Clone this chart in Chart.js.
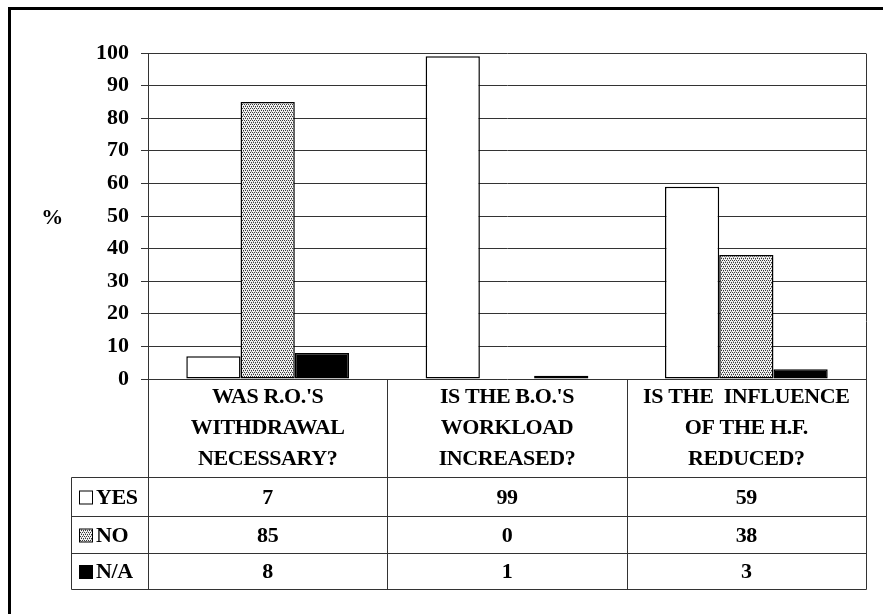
<!DOCTYPE html>
<html>
<head>
<meta charset="utf-8">
<script src="https://cdn.jsdelivr.net/npm/chart.js@4/dist/chart.umd.min.js"></script>
<style>
  html, body { margin: 0; padding: 0; background: #fff; }
  #wrap { position: relative; width: 883px; height: 614px; }
</style>
</head>
<body>
<div id="wrap"><canvas id="c" width="883" height="614"></canvas></div>
<script>
// Survey questions (each shown on three lines in the table header row)
const categories = [
  ["WAS R.O.'S", "WITHDRAWAL", "NECESSARY?"],
  ["IS THE B.O.'S", "WORKLOAD", "INCREASED?"],
  ["IS THE  INFLUENCE", "OF THE H.F.", "REDUCED?"]
];
const seriesNames = ["YES", "NO", "N/A"];
const yesValues = [7, 99, 59];
const noValues = [85, 0, 38];
const naValues = [8, 1, 3];
const yMin = 0, yMax = 100, yStep = 10;
const yTitle = "%";

const FONT = "bold 22px 'Liberation Serif', 'Times New Roman', serif";

// Stippled fill for the "NO" series
function stipple() {
  const t = document.createElement('canvas');
  t.width = 4; t.height = 4;
  const g = t.getContext('2d');
  g.fillStyle = '#f2f2f2';
  g.fillRect(0, 0, 4, 4);
  g.fillStyle = '#3a3a3a';
  g.fillRect(0, 0, 1, 1);
  g.fillRect(2, 0, 1, 1);
  g.fillRect(1, 2, 1, 1);
  g.fillRect(3, 2, 1, 1);
  g.fillStyle = '#9a9a9a';
  g.fillRect(1, 1, 1, 1);
  g.fillRect(3, 3, 1, 1);
  return t;
}
const ctx = document.getElementById('c').getContext('2d');
const noPattern = ctx.createPattern(stipple(), 'repeat');

const seriesValues = [yesValues, noValues, naValues];
const seriesFills = ['#ffffff', noPattern, '#000000'];

// Frame, plot border and the data table under the bars
const tablePlugin = {
  id: 'tablePlugin',
  afterDraw(chart) {
    const c = chart.ctx;
    const a = chart.chartArea;
    const x = chart.scales.x;
    const n = categories.length;
    const step = (a.right - a.left) / n;
    const L = Math.round(a.left) + 0.5;
    const R = Math.round(a.right) + 0.5;
    const T = Math.round(a.top) + 0.5;
    const B = Math.round(a.bottom) + 0.5;
    const headerBottom = B + 98;
    const rowH = [39, 37, 36];
    const legendLeft = 71.5;

    c.save();
    // outer frame (left and top)
    c.fillStyle = '#000';
    c.fillRect(8, 7, 875, 3);
    c.fillRect(8, 7, 3, 607);

    c.strokeStyle = '#333';
    c.lineWidth = 1;
    c.beginPath();
    // right border of plot + table
    let yEnd = headerBottom + rowH.reduce((s, v) => s + v, 0);
    c.moveTo(R, T); c.lineTo(R, yEnd);
    // left border of table
    c.moveTo(L, B); c.lineTo(L, yEnd);
    // category separators
    for (let i = 1; i < n; i++) {
      const xx = Math.round(a.left + step * i) + 0.5;
      c.moveTo(xx, B); c.lineTo(xx, yEnd);
    }
    // legend column left edge
    c.moveTo(legendLeft, headerBottom); c.lineTo(legendLeft, yEnd);
    // row lines
    let yy = headerBottom;
    c.moveTo(legendLeft, yy); c.lineTo(R, yy);
    for (let r = 0; r < rowH.length; r++) {
      yy += rowH[r];
      c.moveTo(legendLeft, yy); c.lineTo(R, yy);
    }
    c.stroke();

    // header labels
    c.fillStyle = '#000';
    c.font = FONT;
    c.letterSpacing = '-0.4px';
    c.textAlign = 'center';
    c.textBaseline = 'middle';
    const mid = (B + headerBottom) / 2;
    for (let i = 0; i < n; i++) {
      const cx = x.getPixelForValue(i);
      const lines = categories[i];
      lines.forEach((t, k) => {
        c.fillText(t, cx, mid + (k - (lines.length - 1) / 2) * 31);
      });
    }

    // data rows with legend keys
    let top = headerBottom;
    for (let r = 0; r < seriesNames.length; r++) {
      const cy = top + rowH[r] / 2 + 1;
      // key box
      c.fillStyle = seriesFills[r];
      c.fillRect(79.5, cy - 7, 13, 13);
      c.strokeStyle = '#000';
      c.lineWidth = 1;
      c.strokeRect(79.5, cy - 7, 13, 13);
      c.fillStyle = '#000';
      c.textAlign = 'left';
      c.fillText(seriesNames[r], 96, cy);
      c.textAlign = 'center';
      for (let i = 0; i < n; i++) {
        c.fillText(String(seriesValues[r][i]), x.getPixelForValue(i), cy);
      }
      top += rowH[r];
    }

    // axis title
    c.textAlign = 'center';
    c.fillText(yTitle, 52, 218);
    c.restore();
  }
};

function dataset(label, values, fill) {
  return {
    label: label,
    data: values,
    backgroundColor: fill,
    borderColor: '#000',
    borderWidth: (ctx) => (ctx.raw === 0 ? 0 : 1.5),
    borderSkipped: false,
    categoryPercentage: 0.68,
    barPercentage: 1.0
  };
}

new Chart(ctx, {
  type: 'bar',
  data: {
    labels: categories.map(c => c.join(' ')),
    datasets: [
      dataset(seriesNames[0], yesValues, seriesFills[0]),
      dataset(seriesNames[1], noValues, seriesFills[1]),
      dataset(seriesNames[2], naValues, seriesFills[2])
    ]
  },
  options: {
    responsive: false,
    animation: false,
    events: [],
    layout: { padding: { left: 0, right: 17, top: 53, bottom: 235 } },
    plugins: { legend: { display: false }, tooltip: { enabled: false } },
    scales: {
      x: { display: false },
      y: {
        min: yMin,
        max: yMax,
        ticks: {
          stepSize: yStep,
          padding: 12,
          color: '#000',
          font: { family: "'Liberation Serif', 'Times New Roman', serif", size: 22, weight: 'bold' }
        },
        grid: { color: '#333', lineWidth: 1, tickLength: 7, drawTicks: true },
        border: { display: true, color: '#333', width: 1 },
        afterFit(scale) {
          scale.width = 148;
          scale.paddingTop = 0;
          scale.paddingBottom = 0;
        }
      }
    }
  },
  plugins: [tablePlugin]
});
</script>
</body>
</html>
